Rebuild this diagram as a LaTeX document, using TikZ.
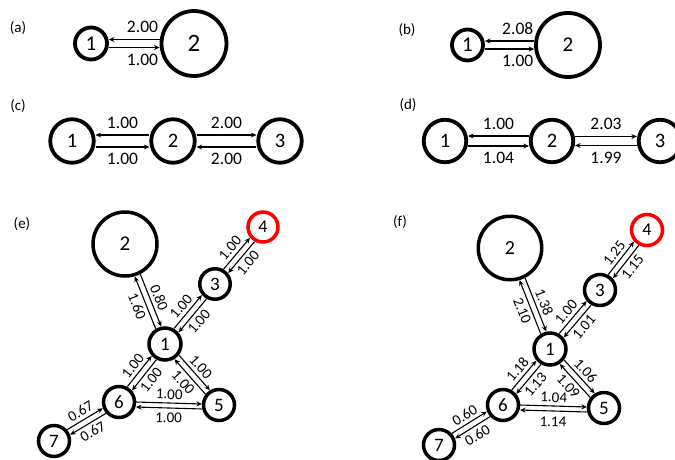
\documentclass[tikz,border=0pt]{standalone}
\usepackage{fontspec}
\setmainfont{Carlito}
\usetikzlibrary{calc,arrows.meta}
\tikzset{
  nd/.style 2 args={circle, draw=black, line width=3.8pt, inner sep=0pt, minimum size=#1, font=\fontsize{#2}{#2}\selectfont},
  ndE/.style 2 args={circle, draw=black, line width=3.5pt, inner sep=0pt, minimum size=#1, font=\fontsize{#2}{#2}\selectfont},
  hot/.style={draw=red},
  conn/.style={line width=1.1pt, -{Stealth[length=5.5pt,width=5pt]}},
  lab1/.style={sloped, inner sep=6pt, font=\fontsize{17.5}{18}\selectfont},
  lab2/.style={sloped, inner sep=3.2pt, font=\fontsize{15}{15}\selectfont},
  panel/.style={font=\fontsize{15}{15}\selectfont, inner sep=0pt}
}
\newcommand{\lnk}[7]{\draw[conn, shorten <=#4, shorten >=#5] ($(#1)!#3!90:(#2)$) -- node[#6] {#7} ($(#2)!#3!-90:(#1)$);}
\begin{document}
\begin{tikzpicture}[x=1pt, y=-1pt]
\useasboundingbox (0,0) rectangle (675,459);
\fill[white] (0,0) rectangle (675,459);

% (a)
\node[panel] (la) at (18,28) {(a)};
\node[nd={32pt}{21}] (a1) at (91,43.5) {1};
\node[nd={65pt}{25}] (a2) at (194,43.5) {2};
\lnk{a2}{a1}{-4pt}{34.4pt}{17.9pt}{lab1,above}{2.00}
\lnk{a1}{a2}{-4pt}{17.9pt}{34.4pt}{lab1,below}{1.00}

% (b)
\node[panel] (lb) at (407,30) {(b)};
\node[nd={31pt}{21}] (b1) at (467.5,45) {1};
\node[nd={64pt}{21}] (b2) at (568,45) {2};
\lnk{b2}{b1}{-4pt}{33.9pt}{17.4pt}{lab1,above}{2.08}
\lnk{b1}{b2}{-4pt}{17.4pt}{33.9pt}{lab1,below}{1.00}

% (c)
\node[panel] (lc) at (18,106) {(c)};
\node[nd={43.5pt}{20.5}] (c1) at (72,141) {1};
\node[nd={43.5pt}{20.5}] (c2) at (173,141) {2};
\node[nd={43.5pt}{20.5}] (c3) at (280,141) {3};
\lnk{c2}{c1}{-6pt}{23.6pt}{23.6pt}{lab1,above}{1.00}
\lnk{c1}{c2}{-6pt}{23.6pt}{23.6pt}{lab1,below}{1.00}
\lnk{c2}{c3}{6pt}{23.6pt}{23.6pt}{lab1,above}{2.00}
\lnk{c3}{c2}{6pt}{23.6pt}{23.6pt}{lab1,below}{2.00}

% (d)
\node[panel] (ld) at (408,105) {(d)};
\node[nd={42.5pt}{20.5}] (d1) at (445,141) {1};
\node[nd={42.5pt}{20.5}] (d2) at (552,141) {2};
\node[nd={42.5pt}{20.5}] (d3) at (660,141) {3};
\lnk{d2}{d1}{-5pt}{23.1pt}{23.1pt}{lab1,above}{1.00}
\lnk{d1}{d2}{-5pt}{23.1pt}{23.1pt}{lab1,below}{1.04}
\lnk{d2}{d3}{4.5pt}{23.1pt}{23.1pt}{lab1,above}{2.03}
\lnk{d3}{d2}{4.5pt}{23.1pt}{23.1pt}{lab1,below}{1.99}

% (e)
\node[panel] (le) at (22,224) {(e)};
\node[ndE={64pt}{21}] (e2) at (125,244) {2};
\node[ndE={30pt}{18},hot] (e4) at (263,227) {4};
\node[ndE={30.5pt}{19}] (e3) at (215,284) {3};
\node[ndE={32pt}{19}] (e1) at (165,344) {1};
\node[ndE={31pt}{19}] (e6) at (119,402) {6};
\node[ndE={31pt}{19}] (e5) at (219,405) {5};
\node[ndE={31pt}{19}] (e7) at (54,441) {7};
\lnk{e2}{e1}{3pt}{33.8pt}{17.7pt}{lab2,above,pos=.58}{0.80}
\lnk{e1}{e2}{3pt}{17.7pt}{33.8pt}{lab2,below,pos=.42}{1.60}
\lnk{e1}{e3}{3pt}{17.7pt}{17pt}{lab2,above}{1.00}
\lnk{e3}{e1}{3pt}{17pt}{17.7pt}{lab2,below}{1.00}
\lnk{e3}{e4}{3pt}{17pt}{16.8pt}{lab2,above}{1.00}
\lnk{e4}{e3}{3pt}{16.8pt}{17pt}{lab2,below}{1.00}
\lnk{e6}{e1}{3pt}{17.2pt}{17.7pt}{lab2,above}{1.00}
\lnk{e1}{e6}{3pt}{17.7pt}{17.2pt}{lab2,below}{1.00}
\lnk{e1}{e5}{3pt}{17.7pt}{17.2pt}{lab2,above}{1.00}
\lnk{e5}{e1}{3pt}{17.2pt}{17.7pt}{lab2,below}{1.00}
\lnk{e6}{e5}{0.5pt}{17.2pt}{17.2pt}{lab2,above}{1.00}
\lnk{e5}{e6}{4.5pt}{17.2pt}{17.2pt}{lab2,below,inner sep=4.5pt}{1.00}
\lnk{e7}{e6}{3pt}{17.2pt}{17.2pt}{lab2,above}{0.67}
\lnk{e6}{e7}{3pt}{17.2pt}{17.2pt}{lab2,below}{0.67}

% (f)
\node[panel] (lf) at (400,222) {(f)};
\node[ndE={63.5pt}{20}] (f2) at (510,248) {2};
\node[ndE={31pt}{18},hot] (f4) at (647,230) {4};
\node[ndE={31pt}{19}] (f3) at (600,290) {3};
\node[ndE={32pt}{19}] (f1) at (550,349) {1};
\node[ndE={31pt}{19}] (f6) at (503,405) {6};
\node[ndE={31pt}{19}] (f5) at (604,408) {5};
\node[ndE={31pt}{19}] (f7) at (439,445) {7};
\lnk{f2}{f1}{3pt}{33.5pt}{17.7pt}{lab2,above,pos=.58}{1.38}
\lnk{f1}{f2}{3pt}{17.7pt}{33.5pt}{lab2,below,pos=.42}{2.10}
\lnk{f1}{f3}{3pt}{17.7pt}{17.2pt}{lab2,above}{1.00}
\lnk{f3}{f1}{3pt}{17.2pt}{17.7pt}{lab2,below}{1.01}
\lnk{f3}{f4}{3pt}{17.2pt}{17.2pt}{lab2,above}{1.25}
\lnk{f4}{f3}{3pt}{17.2pt}{17.2pt}{lab2,below}{1.15}
\lnk{f6}{f1}{3pt}{17.2pt}{17.7pt}{lab2,above}{1.18}
\lnk{f1}{f6}{3pt}{17.7pt}{17.2pt}{lab2,below}{1.13}
\lnk{f1}{f5}{3pt}{17.7pt}{17.2pt}{lab2,above}{1.06}
\lnk{f5}{f1}{3pt}{17.2pt}{17.7pt}{lab2,below}{1.09}
\lnk{f6}{f5}{0.5pt}{17.2pt}{17.2pt}{lab2,above}{1.04}
\lnk{f5}{f6}{4.5pt}{17.2pt}{17.2pt}{lab2,below,inner sep=5.5pt}{1.14}
\lnk{f7}{f6}{3pt}{17.2pt}{17.2pt}{lab2,above}{0.60}
\lnk{f6}{f7}{3pt}{17.2pt}{17.2pt}{lab2,below}{0.60}
\end{tikzpicture}
\end{document}
